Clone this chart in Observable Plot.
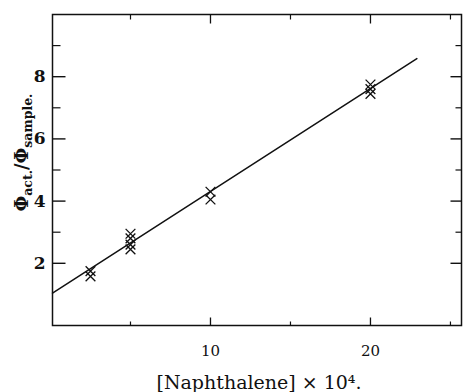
<!DOCTYPE html>
<html>
<head>
<meta charset="utf-8">
<script src="https://cdn.jsdelivr.net/npm/d3@7"></script>
<script src="https://cdn.jsdelivr.net/npm/@observablehq/plot@0.6"></script>
<style>
  html, body { margin: 0; padding: 0; background: #fff; }
  svg { display: block; }
</style>
</head>
<body>
<div id="chart"></div>
<script>
// Data
const naphthalene = [2.5, 2.5, 5, 5, 5, 5, 10, 10, 20, 20, 20];
const ratio       = [1.75, 1.58, 2.95, 2.8, 2.6, 2.45, 4.3, 4.05, 7.75, 7.6, 7.45];
const fitX = [0.125, 22.9];
const fitY = [1.04, 8.58];
const xTickLabels = [10, 20];
const yTickLabels = [2, 4, 6, 8];
const yMinor = [3, 5, 7, 9];
const xMajor = [10, 20];
const xMinor = [5, 15, 25];
const xDomain = [0.125, 25.69];
const yDomain = [0, 10];

const W = 463, H = 392;
const mL = 52, mR = 2, mT = 14, mB = 67;
const plotH = H - mT - mB;
const plotW = W - mL - mR;
const pxX = plotW / (xDomain[1] - xDomain[0]);   // pixels per x unit
const pxY = plotH / (yDomain[1] - yDomain[0]);   // pixels per y unit

const points = naphthalene.map((x, i) => ({x, y: ratio[i]}));
const fit = fitX.map((x, i) => ({x, y: fitY[i]}));
const serif = "'DejaVu Serif', 'Liberation Serif', serif";

// inward tick marks as links (length given in pixels, converted through the scale)
const leftTick = (vals, len, sw) => Plot.link(vals, {
  x1: () => xDomain[0], x2: () => xDomain[0] + len / pxX, y1: d => d, y2: d => d,
  stroke: "#111", strokeWidth: sw
});
const rightTick = (vals, len, sw) => Plot.link(vals, {
  x1: () => xDomain[1], x2: () => xDomain[1] - len / pxX, y1: d => d, y2: d => d,
  stroke: "#111", strokeWidth: sw
});
const topTick = (vals, len, sw) => Plot.link(vals, {
  y1: () => yDomain[1], y2: () => yDomain[1] - len / pxY, x1: d => d, x2: d => d,
  stroke: "#111", strokeWidth: sw
});
const bottomTick = (vals, len, sw) => Plot.link(vals, {
  y1: () => yDomain[0], y2: () => yDomain[0] + len / pxY, x1: d => d, x2: d => d,
  stroke: "#111", strokeWidth: sw
});

const chart = Plot.plot({
  width: W,
  height: H,
  marginLeft: mL,
  marginRight: mR,
  marginTop: mT,
  marginBottom: mB,
  style: {fontFamily: serif, color: "#111", background: "#fff"},
  x: {domain: xDomain, ticks: [], tickSize: 0, label: null},
  y: {domain: yDomain, ticks: [], tickSize: 0, label: null},
  marks: [
    Plot.frame({stroke: "#111", strokeWidth: 1.5}),
    leftTick(yTickLabels, 13, 1.4),
    leftTick(yMinor, 8, 1.2),
    rightTick(yTickLabels, 11, 1.4),
    rightTick(yMinor, 6, 1.2),
    topTick(xMajor, 9, 1.3),
    topTick(xMinor, 5, 1.2),
    bottomTick(xMajor, 8, 1.3),
    bottomTick(xMinor, 4, 1.2),
    // tick labels
    Plot.text(xTickLabels, {
      x: d => d, text: d => String(d), frameAnchor: "bottom", lineAnchor: "middle",
      textAnchor: "middle", dy: 26, fontSize: 15, fill: "#111"
    }),
    Plot.text(yTickLabels, {
      y: d => d, text: d => String(d), frameAnchor: "left", lineAnchor: "middle",
      textAnchor: "end", dx: -7, fontSize: 17, fontWeight: "bold", fill: "#111"
    }),
    Plot.line(fit, {x: "x", y: "y", stroke: "#111", strokeWidth: 1.5}),
    Plot.dot(points, {x: "x", y: "y", symbol: "times", r: 4.5, stroke: "#111", strokeWidth: 1.3}),
    Plot.text(["[Naphthalene] \u00d7 10\u2074."], {
      frameAnchor: "bottom", lineAnchor: "middle", textAnchor: "middle",
      dy: 57, dx: 2, fontSize: 19, fill: "#111", text: d => d
    }),
    Plot.text(["ylabel"], {
      frameAnchor: "left", lineAnchor: "middle", textAnchor: "middle",
      dx: -30, dy: -17.5, rotate: -90, fontSize: 18, fontWeight: "bold",
      fill: "#111", text: d => d, className: "ylab"
    })
  ]
});

// build subscripts in the y-axis label
const t = d3.select(chart).select(".ylab text");
t.text(null);
t.append("tspan").text("\u03a6");
t.append("tspan").attr("font-size", 12.5).attr("dy", 4).text("act.");
t.append("tspan").attr("dy", -4).text("/\u03a6");
t.append("tspan").attr("font-size", 12.5).attr("dy", 4).text("sample.");

document.getElementById("chart").appendChild(chart);
</script>
</body>
</html>
